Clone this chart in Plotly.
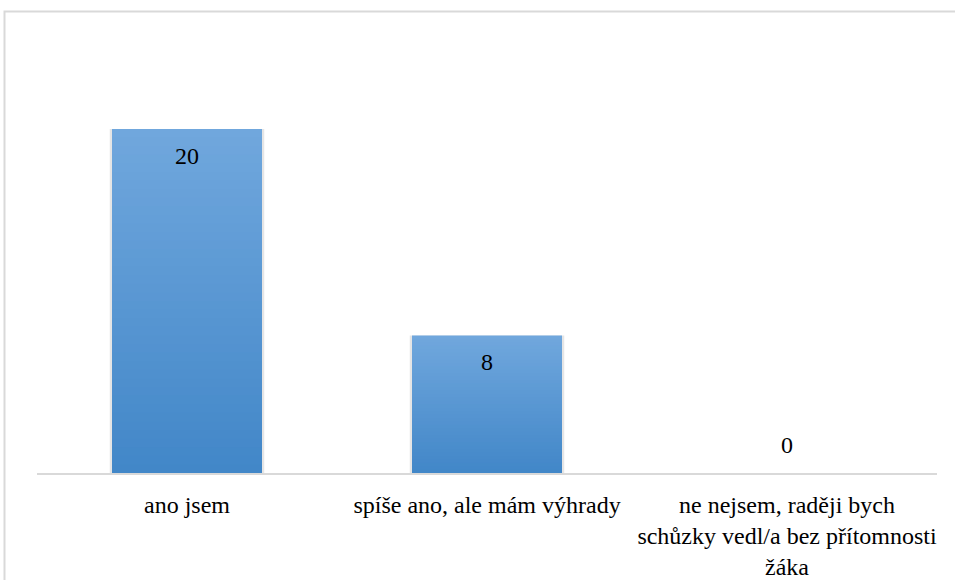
import plotly.graph_objects as go

categories = [
    "ano jsem",
    "spíše ano, ale mám výhrady",
    "ne nejsem, raději bych<br>schůzky vedl/a bez přítomnosti<br>žáka",
]
values = [20, 8, 0]

FONT = "Liberation Serif"
FS = 24

W, H = 955, 580
ML, MR, MT, MB = 37, 18, 30, 107
PX_PER_UNIT = 17.2
plot_h = H - MT - MB
y_max = plot_h / PX_PER_UNIT

top_rgb = (112, 167, 221)
bot_rgb = (66, 135, 200)
N = 40

fig = go.Figure()

# soft shadow behind the bars
fig.add_trace(go.Bar(
    x=categories, y=values, width=0.515,
    marker=dict(color="rgba(0,0,0,0.10)", line=dict(width=0)),
    hoverinfo="skip", showlegend=False,
))

# vertical gradient built from stacked overlay layers
for k in range(N):
    f = k / (N - 1)
    c = tuple(round(top_rgb[i] + (bot_rgb[i] - top_rgb[i]) * f) for i in range(3))
    fig.add_trace(go.Bar(
        x=categories,
        y=[v * (1 - k / N) for v in values],
        width=0.5,
        marker=dict(color="rgb(%d,%d,%d)" % c, line=dict(width=0)),
        hoverinfo="skip", showlegend=False,
    ))

for cat, v in zip(categories, values):
    fig.add_annotation(
        x=cat, y=v, text=str(v), showarrow=False,
        yanchor="middle", yshift=(-27 if v > 0 else 28),
        font=dict(family=FONT, size=FS, color="black"),
    )

# outer chart border
def px_to_paper_x(px):
    return (px - ML) / (W - ML - MR)

def px_to_paper_y(py):
    return (H - MB - py) / plot_h

fig.add_shape(
    type="rect", xref="paper", yref="paper",
    x0=px_to_paper_x(4.5), x1=px_to_paper_x(970),
    y0=px_to_paper_y(600), y1=px_to_paper_y(11.5),
    line=dict(color="#d9d9d9", width=2), fillcolor="rgba(0,0,0,0)", layer="below",
)

fig.update_layout(
    width=W, height=H,
    margin=dict(l=ML, r=MR, t=MT, b=MB, autoexpand=False),
    barmode="overlay",
    plot_bgcolor="white", paper_bgcolor="white",
    font=dict(family=FONT, size=FS, color="black"),
    showlegend=False,
    xaxis=dict(
        showline=True, linecolor="#d9d9d9", linewidth=2,
        showgrid=False, ticks="", zeroline=False,
        automargin=False,
        ticklabelstandoff=9,
        tickfont=dict(family=FONT, size=FS, color="black"),
    ),
    yaxis=dict(
        range=[0, y_max], visible=False, showgrid=False, zeroline=False,
        automargin=False,
    ),
)

fig.write_html(
    "out.html",
    config={"displayModeBar": False},
    post_script="document.body.style.margin='0';document.body.style.overflow='hidden';",
)
